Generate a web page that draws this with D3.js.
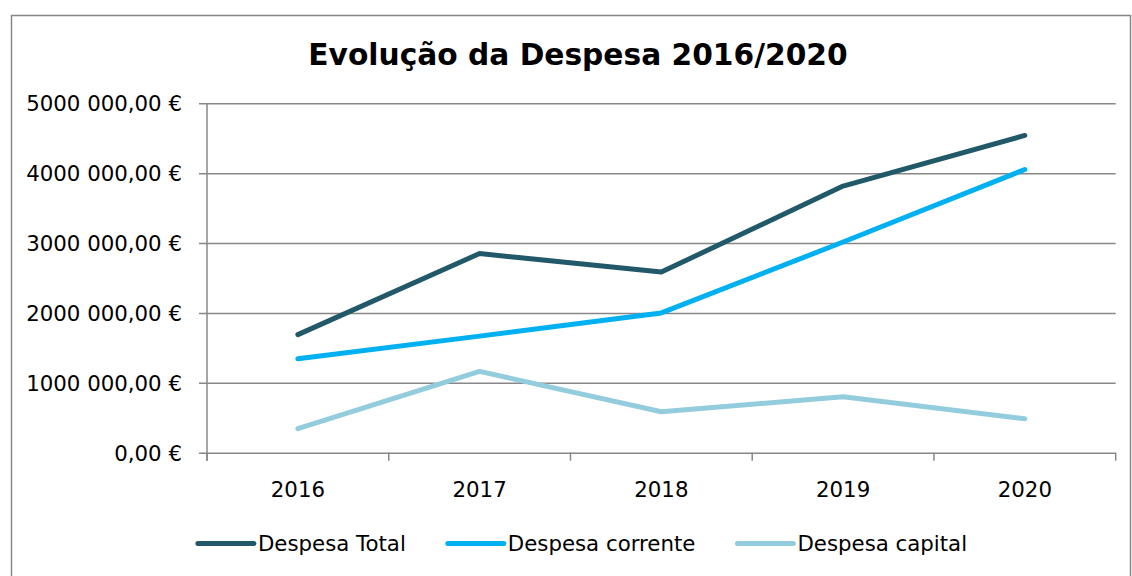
<!DOCTYPE html>
<html>
<head>
<meta charset="utf-8">
<script src="https://cdn.jsdelivr.net/npm/d3@7"></script>
<style>
  body { margin: 0; background: #fff; }
  text { font-family: "DejaVu Sans", Verdana, sans-serif; fill: #000; }
</style>
</head>
<body>
<svg id="chart"></svg>
<script>
// Chart data
const years = ["2016", "2017", "2018", "2019", "2020"];
const despesaTotal = [1690000, 2850000, 2585000, 3815000, 4540000];
const despesaCorrente = [1345000, 1668000, 2000000, 3015000, 4053000];
const despesaCapital = [343000, 1163000, 586000, 800000, 486000];
const yTicks = [0, 1000000, 2000000, 3000000, 4000000, 5000000];
const seriesNames = ["Despesa Total", "Despesa corrente", "Despesa capital"];
const seriesColors = ["#215968", "#00B0F0", "#93CDDD"];

const width = 1132;
const height = 576;
const plot = { left: 207, right: 1115.7, top: 103.3, bottom: 452.7 };
const gridColor = "#878787";

const svg = d3.select("#chart")
  .attr("width", width)
  .attr("height", height);

// outer frame of the chart area
svg.append("rect")
  .attr("x", 11.5)
  .attr("y", 15.5)
  .attr("width", 1119)
  .attr("height", 620)
  .attr("fill", "none")
  .attr("stroke", gridColor)
  .attr("stroke-width", 1.5);

svg.append("text")
  .attr("x", 578)
  .attr("y", 65)
  .attr("text-anchor", "middle")
  .style("font-size", "29.7px")
  .style("font-weight", "bold")
  .text("Evolução da Despesa 2016/2020");

const x = d3.scaleBand()
  .domain(years)
  .range([plot.left, plot.right]);

const y = d3.scaleLinear()
  .domain([0, 5000000])
  .range([plot.bottom, plot.top]);

const locale = d3.formatLocale({
  decimal: ",",
  thousands: " ",
  grouping: [3, 4],
  currency: ["", " €"]
});
const fmt = locale.format("$,.2f");

// y axis with gridlines
const yAxis = svg.append("g")
  .attr("transform", `translate(${plot.left},0)`)
  .call(d3.axisLeft(y).tickValues(yTicks).tickSizeInner(-(plot.right - plot.left)).tickSizeOuter(0).tickFormat(fmt));

yAxis.select(".domain").remove();
yAxis.selectAll(".tick line")
  .attr("x1", -8)
  .attr("stroke", gridColor)
  .attr("stroke-width", 1.5);
yAxis.selectAll(".tick text")
  .attr("x", -25)
  .attr("dy", "0.36em")
  .style("font-size", "21.3px")
  .style("font-family", "DejaVu Sans, Verdana, sans-serif");

// vertical axis line
svg.append("line")
  .attr("x1", plot.left).attr("x2", plot.left)
  .attr("y1", plot.top).attr("y2", plot.bottom + 8)
  .attr("stroke", gridColor)
  .attr("stroke-width", 1.5);

// x axis: labels centred in bands, ticks on band edges
const xAxis = svg.append("g")
  .attr("transform", `translate(0,${plot.bottom})`)
  .call(d3.axisBottom(x).tickSize(0).tickPadding(29));

xAxis.select(".domain").remove();
xAxis.selectAll(".tick text")
  .style("font-size", "21.3px")
  .style("font-family", "DejaVu Sans, Verdana, sans-serif");

const edges = years.map(d => x(d)).concat([x.range()[1]]);
svg.append("g")
  .selectAll("line")
  .data(edges)
  .enter().append("line")
  .attr("x1", d => d).attr("x2", d => d)
  .attr("y1", plot.bottom).attr("y2", plot.bottom + 8)
  .attr("stroke", gridColor)
  .attr("stroke-width", 1.5);

// lines
const seriesValues = [despesaTotal, despesaCorrente, despesaCapital];
const line = d3.line()
  .x((d, i) => x(years[i]) + x.bandwidth() / 2)
  .y(d => y(d));

// draw capital first so the darker series stay on top
[2, 1, 0].forEach(i => {
  svg.append("path")
    .datum(seriesValues[i])
    .attr("d", line)
    .attr("fill", "none")
    .attr("stroke", seriesColors[i])
    .attr("stroke-width", 5)
    .attr("stroke-linecap", "round")
    .attr("stroke-linejoin", "round");
});

// legend
const legend = svg.append("g");
let lx = 0;
seriesNames.forEach((name, i) => {
  const item = legend.append("g").attr("transform", `translate(${lx},0)`);
  item.append("line")
    .attr("x1", 0).attr("x2", 56)
    .attr("y1", 0).attr("y2", 0)
    .attr("stroke", seriesColors[i])
    .attr("stroke-width", 5)
    .attr("stroke-linecap", "round");
  const t = item.append("text")
    .attr("x", 60)
    .attr("dy", "0.36em")
    .style("font-size", "21.3px")
    .text(name);
  lx += 60 + t.node().getComputedTextLength() + 42;
});
const legendWidth = lx - 42;
legend.attr("transform", `translate(${582.5 - legendWidth / 2},543.5)`);
</script>
</body>
</html>
